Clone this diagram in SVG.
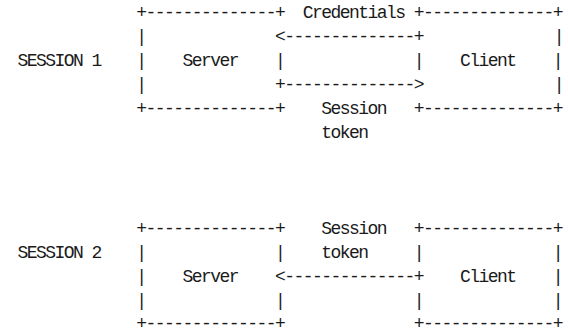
<svg xmlns="http://www.w3.org/2000/svg" width="568" height="330" viewBox="0 0 568 330" xml:space="preserve">
<style>
text { font-family: "Liberation Mono", "DejaVu Sans Mono", monospace; font-size: 18px; letter-spacing: -1.544px; fill: #1a1a1a; white-space: pre; }
</style>
<rect width="568" height="330" fill="#ffffff"/>
<g id="label-session1"><text x="17.5" y="66">SESSION 1</text></g>
<g id="label-session2"><text x="17.5" y="258">SESSION 2</text></g>
<g id="server1">
<text x="136.13" y="18">+--------------+</text>
<text x="136.13" y="42">|</text>
<text x="136.13" y="66">|    Server    |</text>
<text x="136.13" y="90">|</text>
<text x="136.13" y="114">+--------------+</text>
</g>
<g id="client1">
<text x="413.81" y="18">+--------------+</text>
<text x="553.65" y="42">|</text>
<text x="413.81" y="66">|    Client    |</text>
<text x="553.65" y="90">|</text>
<text x="413.81" y="114">+--------------+</text>
</g>
<g id="server2">
<text x="136.13" y="233.5">+--------------+</text>
<text x="136.13" y="258">|              |</text>
<text x="136.13" y="282">|    Server</text>
<text x="136.13" y="305.5">|              |</text>
<text x="136.13" y="328.5">+--------------+</text>
</g>
<g id="client2">
<text x="413.81" y="233.5">+--------------+</text>
<text x="413.81" y="258">|              |</text>
<text x="423.06" y="282">    Client    |</text>
<text x="413.81" y="305.5">|              |</text>
<text x="413.81" y="328.5">+--------------+</text>
</g>
<g id="connectors">
<text x="274.97" y="42">&lt;--------------+</text>
<text x="302.74" y="18">Credentials</text>
<text x="274.97" y="90">+--------------&gt;</text>
<text x="321.25" y="114">Session</text>
<text x="321.25" y="138">token</text>
<text x="274.97" y="282">&lt;--------------+</text>
<text x="321.25" y="233.5">Session</text>
<text x="321.25" y="258">token</text>
</g>
</svg>
